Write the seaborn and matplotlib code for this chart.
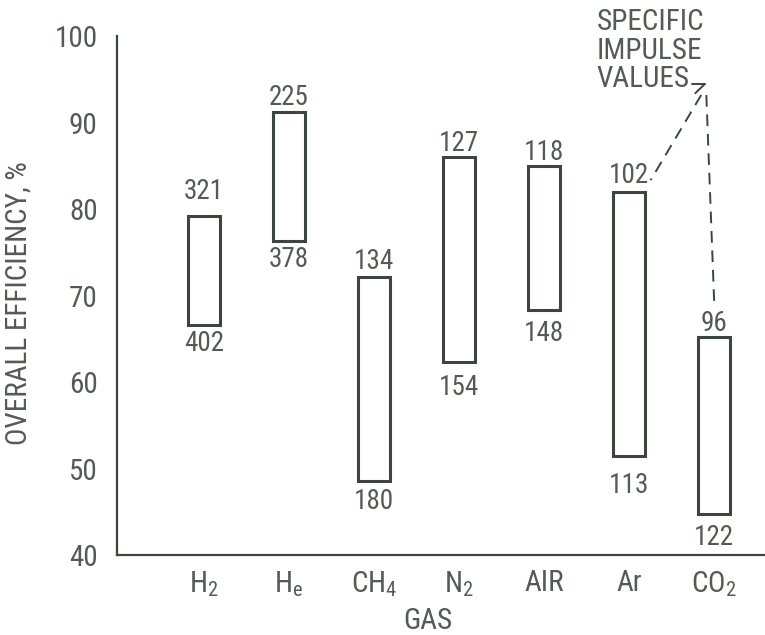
import matplotlib
matplotlib.use("Agg")
import matplotlib.pyplot as plt
from matplotlib import font_manager
import seaborn as sns
import pandas as pd

# gas, efficiency range (%) and specific impulse values at each end
gases = [r"$\mathregular{H_2}$", r"$\mathregular{H_e}$", r"$\mathregular{CH_4}$",
         r"$\mathregular{N_2}$", "AIR", "Ar", r"$\mathregular{CO_2}$"]
eff_low = [66.6, 76.3, 48.6, 62.3, 68.3, 51.4, 44.7]
eff_high = [79.2, 91.2, 72.1, 86.0, 85.0, 82.0, 65.2]
isp_high_eff = ["321", "225", "134", "127", "118", "102", "96"]
isp_low_eff = ["402", "378", "180", "154", "148", "113", "122"]
yticks = [40, 50, 60, 70, 80, 90, 100]

# label gaps from the bar ends, in points
top_gap = [18, 11, 11.5, 10, 10, 11.5, 10]
bottom_gap = [13, 13, 15, 18, 17, 21, 16.5]


def pick_font():
    fonts = font_manager.fontManager.ttflist
    names = {f.name for f in fonts}
    for name in ["Liberation Sans Narrow", "Roboto Condensed", "Open Sans Condensed",
                 "Noto Sans Condensed"]:
        if name in names:
            return name, "normal", 1.0
    for f in fonts:
        if f.name == "DejaVu Sans" and "condensed" in str(f.stretch).lower():
            return "DejaVu Sans", "condensed", 0.85
    return "Roboto", "normal", 0.85


font_name, font_stretch, scale = pick_font()

sns.set_style("white")
plt.rcParams["font.family"] = [font_name, "DejaVu Sans"]
plt.rcParams["font.stretch"] = font_stretch
plt.rcParams["mathtext.fontset"] = "custom"
plt.rcParams["mathtext.rm"] = font_name

ink = "#3c463e"
text_col = "#525c54"

df = pd.DataFrame({"gas": gases, "low": eff_low, "high": eff_high})
df["span"] = df["high"] - df["low"]

fig = plt.figure(figsize=(7.65, 6.35), dpi=100)
ax = fig.add_axes([0.153, 0.126, 0.847, 0.817])

sns.barplot(data=df, x="gas", y="span", width=0.38, ax=ax,
            facecolor="none", edgecolor=ink, linewidth=2.2)

# float each bar between its low and high efficiency
for patch, lo, hi in zip(ax.patches, df["low"], df["high"]):
    patch.set_y(lo)
    patch.set_height(hi - lo)

for i, (lo, hi) in enumerate(zip(df["low"], df["high"])):
    ax.annotate(isp_high_eff[i], (i, hi), xytext=(0, top_gap[i]), textcoords="offset points",
                ha="center", va="center", fontsize=19.5 * scale, color=text_col)
    ax.annotate(isp_low_eff[i], (i, lo), xytext=(0, -bottom_gap[i]), textcoords="offset points",
                ha="center", va="center", fontsize=19.5 * scale, color=text_col)

ax.set_xlim(-1.02, 6.6)
ax.set_ylim(40, 100)
ax.set_yticks(yticks)
ax.tick_params(axis="y", direction="in", length=23, width=1.5, color=ink,
               pad=14, labelsize=21 * scale, labelcolor=text_col)
ax.tick_params(axis="x", length=0, pad=10, labelsize=21 * scale, labelcolor=text_col)

sns.despine(ax=ax)
ax.spines["left"].set_color(ink)
ax.spines["bottom"].set_color(ink)
ax.spines["left"].set_linewidth(1.6)
ax.spines["bottom"].set_linewidth(1.6)

ax.set_xlabel("GAS", fontsize=21 * scale, color=text_col)
ax.xaxis.set_label_coords(0.48, -0.1)
ax.set_ylabel("OVERALL EFFICIENCY, %", fontsize=21 * scale, color=text_col)
ax.yaxis.set_label_coords(-0.13, 0.486)

# callout for the impulse labels
ax.text(4.62, 93.4, "SPECIFIC\nIMPULSE\nVALUES", ha="left", va="bottom",
        fontsize=21 * scale, color=text_col, linespacing=1.02, clip_on=False)
ax.plot([5.74, 5.89], [94.45, 94.45], color=ink, lw=1.4, clip_on=False)
ax.plot([5.89, 5.78], [94.45, 93.4], color=ink, lw=1.4, clip_on=False)
ax.plot([5.85, 5.255], [93.2, 83.35], color=ink, lw=1.4, ls=(0, (6, 4)), clip_on=False)
ax.plot([5.91, 6.003], [93.2, 69.1], color=ink, lw=1.4, ls=(0, (6, 4)), clip_on=False)

fig.savefig("out.png", dpi=100)
